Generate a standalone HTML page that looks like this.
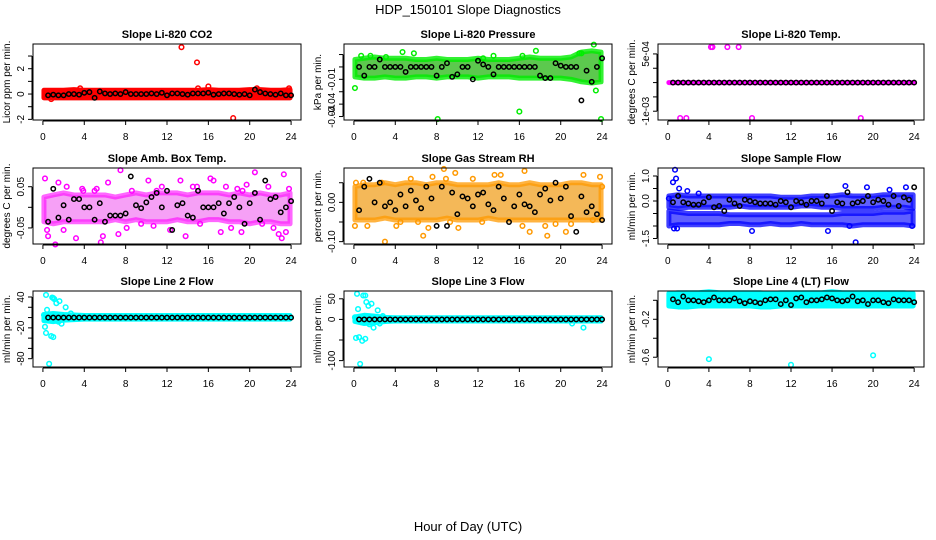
<!DOCTYPE html>
<html><head><meta charset="utf-8"><style>
html,body{margin:0;padding:0;background:#fff;}
svg{display:block;font-family:"Liberation Sans",Arial,sans-serif;}
</style></head><body>
<svg id="chart" width="936" height="540" viewBox="0 0 936 540" xmlns="http://www.w3.org/2000/svg">
<text x="468" y="14" text-anchor="middle" font-size="13">HDP_150101  Slope Diagnostics</text>
<text x="468" y="531" text-anchor="middle" font-size="13">Hour of Day (UTC)</text>
</svg>
<script>
// ---- shared data ----
const xTicks = [0,4,8,12,16,20,24];
const hours = [0,1,2,3,4,5,6,7,8,9,10,11,12,13,14,15,16,17,18,19,20,21,22,23,24];

// Panel 1 CO2
const co2Low  = [-0.3,-0.3,-0.3,-0.3,-0.3,-0.3,-0.3,-0.3,-0.3,-0.3,-0.3,-0.3,-0.3,-0.3,-0.3,-0.3,-0.3,-0.3,-0.3,-0.3,-0.3,-0.3,-0.3,-0.3,-0.3];
const co2High = [0.3,0.3,0.3,0.35,0.3,0.3,0.3,0.3,0.3,0.3,0.3,0.3,0.3,0.3,0.3,0.3,0.35,0.3,0.3,0.3,0.35,0.35,0.3,0.3,0.35];
const co2Out = [[13.4,3.7],[14.9,2.5],[18.4,-1.9],[16,0.6],[0.8,-0.4],[15,0.45],[23.8,0.45],[20.7,0.45],[3.6,0.45]];
const co2Black = [-0.1,-0.05,-0.1,-0.1,0,0,-0.05,0.1,0.15,-0.3,0.2,0.05,0,0.05,0,0.15,0,0,0,0,0.05,0,0.1,-0.1,0.05,0.05,0,-0.05,0.05,0.05,0.05,0.1,-0.05,0,0.05,0.05,0,-0.05,0,-0.1,0.35,0.15,0.05,0,-0.05,0.05,-0.1,-0.1];

// Panel 2 Pressure
const presLow  = [-0.008,-0.009,-0.009,-0.008,-0.009,-0.009,-0.008,-0.008,-0.009,-0.008,-0.008,-0.008,-0.009,-0.008,-0.008,-0.008,-0.009,-0.009,-0.009,-0.009,-0.009,-0.01,-0.012,-0.013,-0.012];
const presHigh = [0.006,0.007,0.008,0.007,0.007,0.007,0.006,0.006,0.007,0.006,0.006,0.006,0.007,0.006,0.006,0.006,0.007,0.008,0.007,0.007,0.007,0.008,0.012,0.013,0.012];
const presOut = [[8.1,-0.042],[16,-0.036],[23.9,-0.042],[23.2,0.018],[4.7,0.012],[5.8,0.011],[17.6,0.013],[0.1,-0.017],[23.4,-0.019],[22,0.011],[0.7,0.009],[1.6,0.009],[3.1,0.008],[12.5,0.007],[13.5,0.009],[16.3,0.009],[21.8,0.011]];
const presBlack = [0,-0.007,0,0,0.006,0,0,0,0,-0.004,0,0,0,0,0,-0.007,0,0.003,-0.008,-0.006,0,0,-0.01,0.005,0.002,0,-0.006,0,0,0,0,0,0,0,0,-0.007,-0.009,-0.009,0.003,0.001,0,0,0,-0.027,-0.003,-0.012,0,0.007];

// Panel 3 Temp
const tempLow  = [-0.00025,-0.00025,-0.00025,-0.00025,-0.00025,-0.00025,-0.00025,-0.00025,-0.00025,-0.00025,-0.00025,-0.00025,-0.00025,-0.00025,-0.00025,-0.00025,-0.00025,-0.00025,-0.00025,-0.00025,-0.00025,-0.00025,-0.00025,-0.00025,-0.00025];
const tempHigh = [-0.00025,-0.00025,-0.00025,-0.00025,-0.00025,-0.00025,-0.00025,-0.00025,-0.00025,-0.00025,-0.00025,-0.00025,-0.00025,-0.00025,-0.00025,-0.00025,-0.00025,-0.00025,-0.00025,-0.00025,-0.00025,-0.00025,-0.00025,-0.00025,-0.00025];
const tempOut = [[4.2,0.00068],[4.35,0.00068],[5.8,0.00068],[6.9,0.00068],[1.2,-0.00118],[1.8,-0.00118],[8.2,-0.00118],[18.8,-0.00118]];
const tempBlack = [-0.00025,-0.00025,-0.00025,-0.00025,-0.00025,-0.00025,-0.00025,-0.00025,-0.00025,-0.00025,-0.00025,-0.00025,-0.00025,-0.00025,-0.00025,-0.00025,-0.00025,-0.00025,-0.00025,-0.00025,-0.00025,-0.00025,-0.00025,-0.00025,-0.00025,-0.00025,-0.00025,-0.00025,-0.00025,-0.00025,-0.00025,-0.00025,-0.00025,-0.00025,-0.00025,-0.00025,-0.00025,-0.00025,-0.00025,-0.00025,-0.00025,-0.00025,-0.00025,-0.00025,-0.00025,-0.00025,-0.00025,-0.00025];

// Panel 4 Amb Box Temp
const ambLow  = [-0.035,-0.04,-0.035,-0.035,-0.035,-0.035,-0.035,-0.03,-0.035,-0.03,-0.035,-0.035,-0.035,-0.03,-0.035,-0.035,-0.03,-0.03,-0.035,-0.035,-0.04,-0.035,-0.035,-0.04,-0.04];
const ambHigh = [0.025,0.03,0.035,0.03,0.03,0.03,0.03,0.025,0.03,0.035,0.03,0.035,0.035,0.035,0.03,0.035,0.035,0.035,0.03,0.035,0.03,0.035,0.03,0.03,0.035];
const ambOut = [[0.2,0.07],[0.4,-0.055],[0.5,-0.07],[1.2,-0.09],[1.5,0.06],[2,-0.055],[2.3,0.05],[3.2,-0.075],[3.8,0.045],[5,0.04],[5.6,-0.085],[5.8,-0.07],[6.3,0.06],[7.3,-0.065],[7.5,0.09],[8.1,-0.05],[8.6,0.04],[9.5,-0.04],[10.2,0.065],[10.7,-0.045],[11.5,0.05],[12.3,-0.055],[13.3,0.065],[13.8,-0.07],[14.5,0.05],[15.2,-0.04],[16.2,0.07],[16.5,0.065],[17.2,-0.06],[17.7,0.05],[18.2,-0.05],[18.8,0.045],[19.2,-0.06],[19.7,0.055],[20.5,0.085],[21.2,-0.04],[21.8,0.05],[22.3,-0.05],[22.8,-0.065],[23.1,-0.075],[23.3,0.08],[23.5,-0.06],[23.8,0.045],[5.2,0.045],[3.9,0.04],[11,0.04],[14.9,0.05],[19.3,0.04]];
const ambBlack = [-0.035,0.045,-0.025,0.005,-0.03,0.02,0.02,0,0,-0.03,0.01,-0.035,-0.02,-0.02,-0.02,-0.015,0.075,0.005,-0.002,0.012,0.025,0.035,0,0.04,-0.055,0.005,0.01,-0.02,-0.025,0.04,0,0,0,0.01,-0.015,0.01,0.025,0,-0.04,0.01,0.035,-0.03,0.065,0.02,0.025,-0.012,0,0.015];

// Panel 5 Gas Stream RH
const rhLow  = [-0.045,-0.045,-0.045,-0.04,-0.045,-0.045,-0.045,-0.045,-0.045,-0.04,-0.045,-0.045,-0.045,-0.04,-0.045,-0.045,-0.045,-0.045,-0.045,-0.045,-0.045,-0.045,-0.045,-0.045,-0.045];
const rhHigh = [0.04,0.045,0.045,0.05,0.045,0.05,0.05,0.045,0.05,0.05,0.045,0.045,0.045,0.045,0.05,0.045,0.045,0.05,0.045,0.045,0.045,0.05,0.05,0.045,0.045];
const rhOut = [[0.1,-0.06],[0.2,0.05],[0.9,0.05],[1.3,-0.06],[2.7,0.05],[3,-0.1],[4.1,-0.06],[4.5,-0.05],[5.5,0.06],[6.2,-0.05],[6.7,-0.085],[7.2,-0.065],[7.6,0.065],[8.7,0.085],[8.9,0.06],[9.3,-0.05],[10.1,-0.065],[11.5,0.06],[12.4,-0.05],[13.6,0.07],[14.2,0.07],[16.3,-0.06],[16.5,0.08],[17,-0.075],[18.5,-0.06],[18.7,-0.085],[19.5,-0.055],[20.5,-0.075],[22.2,0.07],[23.1,-0.045],[23.8,0.065],[24,0.04],[21,-0.055],[9.8,0.075]];
const rhBlack = [-0.02,0.04,0.06,0,0.05,-0.01,0,-0.02,0.02,-0.01,0.03,0.005,-0.015,0.04,0.01,-0.06,0.04,-0.06,0.025,-0.03,0.015,0.01,-0.01,0.02,0.025,-0.005,-0.02,0.04,0.01,-0.05,-0.01,0.02,-0.005,-0.01,-0.025,0.02,0.035,0.005,0.05,0.01,0.04,-0.035,-0.075,0.015,-0.025,-0.01,-0.03,-0.045];

// Panel 6 Sample Flow (two bands)
const sfLowA  = [-0.25,-0.3,-0.25,-0.25,-0.25,-0.25,-0.25,-0.2,-0.25,-0.25,-0.25,-0.25,-0.25,-0.2,-0.2,-0.25,-0.25,-0.3,-0.3,-0.3,-0.3,-0.25,-0.25,-0.25,-0.3];
const sfHighA = [0.2,0.25,0.2,0.2,0.2,0.2,0.2,0.2,0.2,0.2,0.2,0.15,0.15,0.15,0.2,0.2,0.2,0.25,0.2,0.2,0.2,0.25,0.25,0.25,0.25];
const sfLowB  = [-1.0,-0.95,-0.95,-0.95,-0.95,-0.95,-0.9,-0.9,-0.95,-0.95,-0.9,-0.95,-0.95,-0.9,-0.95,-0.95,-0.95,-0.95,-1.0,-0.95,-0.95,-0.95,-0.95,-0.95,-1.0];
const sfHighB = [-0.4,-0.45,-0.5,-0.5,-0.5,-0.5,-0.55,-0.55,-0.55,-0.55,-0.55,-0.55,-0.55,-0.55,-0.55,-0.55,-0.55,-0.5,-0.5,-0.5,-0.5,-0.45,-0.45,-0.45,-0.4];
const sfOut = [[0.7,1.25],[0.8,0.9],[0.5,0.75],[1.1,0.5],[17.3,0.6],[19.4,0.55],[23.2,0.55],[8.2,-1.2],[15.6,-1.2],[18.3,-1.65],[0.6,-1.1],[0.9,-1.1],[1.9,0.4],[3,0.3],[23.8,-1.0],[17.7,-1.0],[0.1,0.1],[21.6,0.45]];
const sfBlack = [-0.05,0.2,-0.05,-0.1,-0.15,-0.15,-0.05,0.15,-0.25,-0.2,-0.4,0.05,-0.1,-0.2,0.05,0,-0.05,-0.1,-0.1,-0.1,-0.15,0,-0.05,-0.25,0,-0.05,-0.15,0,0,-0.1,0.2,-0.4,-0.05,-0.1,0.35,-0.1,-0.05,0,0.2,-0.05,0.05,0,-0.15,0.2,-0.2,0.15,0.05,0.55];

// Panel 7 Line 2 Flow
const l2Low  = [-6,-8,-5,-4,-3,-3,-3,-3,-3,-3,-3,-3,-3,-3,-3,-3,-3,-3,-3,-3,-3,-3,-3,-3,-3];
const l2High = [6,8,6,5,4,4,4,4,4,4,4,4,4,4,4,4,4,4,4,4,4,4,4,4,4];
const l2Out = [[0.3,44],[1,38],[1.3,28],[1.6,32],[2.2,20],[0.1,5],[0.4,15],[0.2,-18],[0.3,-30],[0.8,-36],[1,-38],[0.6,-90],[1.5,-8],[1.8,-12],[2.7,8],[1.2,-2],[1.1,36],[0.9,39]];
const l2Black = [0,0,0,0,0,0,0,0,0,0,0,0,0,0,0,0,0,0,0,0,0,0,0,0,0,0,0,0,0,0,0,0,0,0,0,0,0,0,0,0,0,0,0,0,0,0,0,0];

// Panel 8 Line 3 Flow
const l3Low  = [-5,-10,-8,-5,-4,-4,-4,-4,-4,-4,-4,-4,-4,-4,-4,-4,-4,-4,-4,-4,-4,-4,-4,-4,-4];
const l3High = [6,10,8,5,4,4,4,4,4,4,4,4,4,4,4,4,4,4,4,4,4,4,4,4,4];
const l3Out = [[0.3,62],[0.9,58],[1.1,58],[1.2,42],[1.4,33],[1.7,38],[2.3,22],[0.4,25],[0.1,5],[0.2,-45],[0.5,-43],[0.8,-52],[1.1,-47],[0.6,-108],[1.5,-12],[1.9,-20],[2.5,-10],[22.2,-20],[21.1,-10],[2.8,8]];
const l3Black = [0,0,0,0,0,0,0,0,0,0,0,0,0,0,0,0,0,0,0,0,0,0,0,0,0,0,0,0,0,0,0,0,0,0,0,0,0,0,0,0,0,0,0,0,0,0,0,0];

// Panel 9 Line 4 Flow
const l4Low  = [-0.06,-0.07,-0.07,-0.06,-0.06,-0.06,-0.06,-0.06,-0.06,-0.07,-0.07,-0.06,-0.06,-0.06,-0.06,-0.06,-0.06,-0.06,-0.06,-0.06,-0.06,-0.06,-0.06,-0.06,-0.06];
const l4High = [0.07,0.08,0.08,0.08,0.09,0.08,0.08,0.08,0.08,0.08,0.07,0.08,0.08,0.08,0.08,0.08,0.09,0.08,0.08,0.08,0.08,0.08,0.08,0.08,0.07];
const l4Out = [[4,-0.62],[12,-0.68],[20,-0.58]];
const l4Black = [0.01,-0.02,0.04,0,0,-0.01,-0.02,0,0.03,0,0,0,0.02,-0.01,-0.03,-0.01,-0.02,-0.03,0,0.01,0.01,-0.04,0,-0.05,0.02,0.03,-0.02,0,0,0.01,0.03,0.02,0,-0.01,0,0.04,-0.01,0,-0.04,0,0,-0.02,-0.03,0.01,0,0,0,-0.02];

// tick values and labels
const t1 = [-2,-1,0,1,2,3], l1 = ["-2","","0","","2",""];
const t2 = [0.01,0,-0.01,-0.02,-0.03,-0.04], l2 = ["","","-0.01","","-0.04","-0.04"];
const t3 = [0.0005,0.000125,-0.00025,-0.000625,-0.001], l3 = ["5e-04","","","","-1e-03"];
const t4 = [0.05,0,-0.05], l4 = ["0.05","","-0.05"];
const t5 = [0.05,0,-0.05,-0.1], l5 = ["","0.00","","-0.10"];
const t6 = [1,0.5,0,-0.5,-1,-1.5], l6 = ["1.0","","0.0","","","-1.5"];
const t7 = [40,20,0,-20,-40,-60,-80], l7 = ["40","","","-20","","","-80"];
const t8 = [50,0,-50,-100], l8 = ["50","0","","-100"];
const t9 = [0,-0.2,-0.4,-0.6], l9 = ["","-0.2","","-0.6"];

const panels = [
 {name:"co2",title:"Slope Li-820 CO2",ylab:"Licor ppm per min.",x0:33,x1:301,y0:44,y1:120,dom:[-2.05,3.95],ticks:t1,labels:l1,bands:[[co2Low,co2High]],out:co2Out,black:co2Black,col:"#ff0000",fill:"#ff0000",op:1},
 {name:"pressure",title:"Slope Li-820 Pressure",ylab:"kPa per min.",x0:344,x1:612,y0:44,y1:120,dom:[-0.0428,0.0185],ticks:t2,labels:l2,bands:[[presLow,presHigh]],out:presOut,black:presBlack,col:"#00ee00",fill:"#33bb22",op:0.8},
 {name:"temp",title:"Slope Li-820 Temp.",ylab:"degrees C per min.",x0:658,x1:924,y0:44,y1:120,dom:[-0.00123,0.00076],ticks:t3,labels:l3,bands:[[tempLow,tempHigh]],out:tempOut,black:tempBlack,col:"#ff00ff",fill:"#ff00ff",op:1},
 {name:"amb-temp",title:"Slope Amb. Box Temp.",ylab:"degrees C per min.",x0:33,x1:301,y0:168,y1:244,dom:[-0.089,0.0954],ticks:t4,labels:l4,bands:[[ambLow,ambHigh]],out:ambOut,black:ambBlack,col:"#ff00ff",fill:"#f060f0",op:0.6},
 {name:"rh",title:"Slope Gas Stream RH",ylab:"percent per min.",x0:344,x1:612,y0:168,y1:244,dom:[-0.106,0.0875],ticks:t5,labels:l5,bands:[[rhLow,rhHigh]],out:rhOut,black:rhBlack,col:"#ff9900",fill:"#f0a020",op:0.75},
 {name:"sample-flow",title:"Slope Sample Flow",ylab:"ml/min per min.",x0:658,x1:924,y0:168,y1:244,dom:[-1.72,1.32],ticks:t6,labels:l6,bands:[[sfLowA,sfHighA],[sfLowB,sfHighB]],out:sfOut,black:sfBlack,col:"#0000ff",fill:"#2a2aff",op:0.75},
 {name:"line2-flow",title:"Slope Line 2 Flow",ylab:"ml/min per min.",x0:33,x1:301,y0:291,y1:367,dom:[-96.2,51.7],ticks:t7,labels:l7,bands:[[l2Low,l2High]],out:l2Out,black:l2Black,col:"#00ffff",fill:"#00ffff",op:1},
 {name:"line3-flow",title:"Slope Line 3 Flow",ylab:"ml/min per min.",x0:344,x1:612,y0:291,y1:367,dom:[-115.5,68.9],ticks:t8,labels:l8,bands:[[l3Low,l3High]],out:l3Out,black:l3Black,col:"#00ffff",fill:"#00ffff",op:1},
 {name:"line4-flow",title:"Slope Line 4 (LT) Flow",ylab:"ml/min per min.",x0:658,x1:924,y0:291,y1:367,dom:[-0.703,0.098],ticks:t9,labels:l9,bands:[[l4Low,l4High]],out:l4Out,black:l4Black,col:"#00ffff",fill:"#00ffff",op:1}
];

const NS = "http://www.w3.org/2000/svg";
const svg = document.getElementById("chart");
function mk(tag, attrs, parent){
  const e = document.createElementNS(NS, tag);
  for (const k in attrs) e.setAttribute(k, attrs[k]);
  (parent||svg).appendChild(e);
  return e;
}

panels.forEach(p => {
  const g = mk("g", {});
  
  
  const pad = (p.x1 - p.x0) * 0.037;
  const xs = h => p.x0 + pad + (h / 24) * (p.x1 - p.x0 - 2 * pad);
  const ys = v => p.y1 - (v - p.dom[0]) / (p.dom[1] - p.dom[0]) * (p.y1 - p.y0);
  const cx = (p.x0 + p.x1) / 2;

  const t = mk("text", {x: cx, y: p.y0 - 6, "text-anchor": "middle", "font-size": 11, "font-weight": "bold"}, g);
  t.textContent = p.title;
  
  

  p.bands.forEach(b => {
    const lo = b[0], hi = b[1];
    const pts = [];
    hours.forEach((h, i) => pts.push(xs(Math.min(Math.max(h, 0.1), 23.9)) + "," + ys(hi[i])));
    for (let i = hours.length - 1; i >= 0; i--) pts.push(xs(Math.min(Math.max(hours[i], 0.1), 23.9)) + "," + ys(lo[i]));
    const poly = mk("polygon", {points: pts.join(" "), fill: p.fill, "fill-opacity": p.op, stroke: p.col, "stroke-opacity": p.op, "stroke-width": 5, "stroke-linejoin": "round"}, g);
    
    
  });
  p.out.forEach(o => {
    const c = mk("circle", {cx: xs(o[0]), cy: ys(o[1]), r: 2.3, fill: "none", stroke: p.col, "stroke-width": 1.5}, g);
    
    
  });
  p.black.forEach((v, i) => {
    const c = mk("circle", {cx: xs((i + 1) * 0.5), cy: ys(v), r: 2.2, fill: "none", stroke: "#000", "stroke-width": 1.5}, g);
    
    
  });

  const box = mk("rect", {x: p.x0, y: p.y0, width: p.x1 - p.x0, height: p.y1 - p.y0, fill: "none", stroke: "#000", "stroke-width": 1}, g);
  
  

  mk("line", {x1: xs(0), x2: xs(24), y1: p.y1 + 1, y2: p.y1 + 1, stroke: "#000"}, g);
  xTicks.forEach(h => {
    mk("line", {x1: xs(h), x2: xs(h), y1: p.y1 + 1, y2: p.y1 + 5, stroke: "#000"}, g);
    const tl = mk("text", {x: xs(h), y: p.y1 + 20, "text-anchor": "middle", "font-size": 10}, g);
    tl.textContent = h;
    
    
  });
  const yt = p.ticks.map(ys);
  mk("line", {x1: p.x0 - 1, x2: p.x0 - 1, y1: Math.min(...yt), y2: Math.max(...yt), stroke: "#000"}, g);
  p.ticks.forEach((v, i) => {
    const y = ys(v);
    mk("line", {x1: p.x0 - 5, x2: p.x0 - 1, y1: y, y2: y, stroke: "#000"}, g);
    if (p.labels[i]) {
      const yl = mk("text", {x: p.x0 - 9, y: y, "text-anchor": "middle", "font-size": 10, transform: `rotate(-90 ${p.x0 - 9} ${y})`}, g);
      yl.textContent = p.labels[i];
      
      
    }
  });
  const ymid = (p.y0 + p.y1) / 2;
  const ya = mk("text", {x: p.x0 - 23, y: ymid, "text-anchor": "middle", "font-size": 10, transform: `rotate(-90 ${p.x0 - 23} ${ymid})`}, g);
  ya.textContent = p.ylab;
  
  
});
</script>
</body></html>
